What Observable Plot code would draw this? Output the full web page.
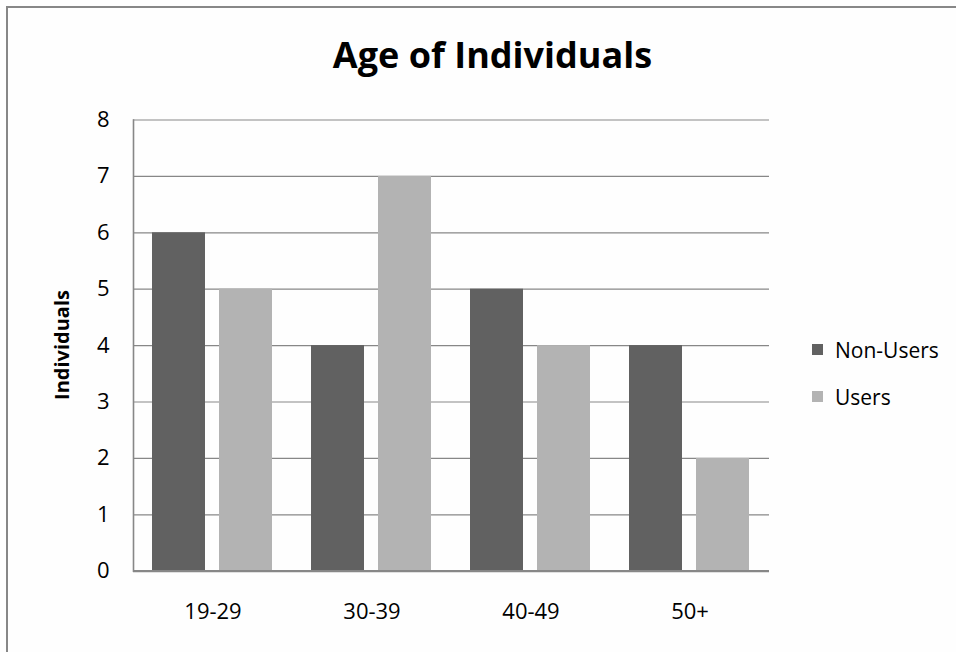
<!DOCTYPE html>
<html>
<head>
<meta charset="utf-8">
<script src="https://cdn.jsdelivr.net/npm/d3@7"></script>
<script src="https://cdn.jsdelivr.net/npm/@observablehq/plot@0.6"></script>
<style>
  html, body { margin: 0; padding: 0; background: #fefefe; }
  #chart { position: relative; width: 956px; height: 652px; overflow: hidden; font-family: "Open Sans", sans-serif; color: #000; }
  #chart svg { position: absolute; left: 0; top: 0; }
  .border { position: absolute; left: 6px; top: 6px; right: -10px; bottom: -10px; border-left: 2px solid #878787; border-top: 2px solid #878787; }
  .title { position: absolute; left: 0; width: 985px; top: 37px; text-align: center; font-weight: 700; font-size: 36px; line-height: 1; white-space: nowrap; }
  .ylabel { position: absolute; left: 62px; top: 345px; transform: translate(-50%, -50%) rotate(-90deg); font-weight: 700; font-size: 20px; white-space: nowrap; line-height: 1; }
  .legend { position: absolute; left: 812px; top: 326px; font-size: 21px; }
  .legend .item { display: flex; align-items: center; height: 47px; }
  .legend .sw { width: 11px; height: 11px; margin-right: 12px; }
</style>
</head>
<body>
<div id="chart">
  <div class="border"></div>
</div>
<script>
// Age groups and the two respondent groups
const categories = ["19-29", "30-39", "40-49", "50+"];
const series = ["Non-Users", "Users"];
const nonUsers = [6, 4, 5, 4];
const users = [5, 7, 4, 2];
const yTicks = [0, 1, 2, 3, 4, 5, 6, 7, 8];
const colors = ["#616161", "#b3b3b3"];
const title = "Age of Individuals";
const yLabel = "Individuals";

// Long-format table for the grouped bars
const rows = categories.flatMap((age, i) => [
  {age, group: series[0], value: nonUsers[i]},
  {age, group: series[1], value: users[i]}
]);

const chart = Plot.plot({
  width: 956,
  height: 652,
  marginLeft: 132,
  marginRight: 185.4,
  marginTop: 119.5,
  marginBottom: 81.3,
  style: {fontFamily: "Open Sans, sans-serif", fontSize: "22px", color: "#000", background: "transparent"},
  fx: {domain: categories, paddingInner: 0, paddingOuter: 0, label: null, tickSize: 0, tickPadding: 32},
  x: {domain: series, paddingInner: 0.206, paddingOuter: 0.277, axis: null},
  y: {domain: [0, 8], ticks: yTicks, label: null, tickSize: 0, tickPadding: 24, tickFormat: d3.format("d")},
  color: {domain: series, range: colors},
  marks: [
    Plot.ruleY(yTicks.filter(d => d > 0), {stroke: "#878787", strokeWidth: 1.2, strokeOpacity: 1}),
    Plot.barY(rows, {fx: "age", x: "group", y: "value", fill: "group"}),
    Plot.ruleY([0], {stroke: "#878787", strokeWidth: 2.2, strokeOpacity: 1}),
    Plot.frame({anchor: "left", facet: "super", stroke: "#878787", strokeWidth: 1.6, strokeOpacity: 1})
  ]
});

const root = document.getElementById("chart");
root.appendChild(chart);

const t = document.createElement("div");
t.className = "title";
t.textContent = title;
root.appendChild(t);

const yl = document.createElement("div");
yl.className = "ylabel";
yl.textContent = yLabel;
root.appendChild(yl);

const lg = document.createElement("div");
lg.className = "legend";
series.forEach((s, i) => {
  const item = document.createElement("div");
  item.className = "item";
  const sw = document.createElement("div");
  sw.className = "sw";
  sw.style.background = colors[i];
  const label = document.createElement("span");
  label.textContent = s;
  item.appendChild(sw);
  item.appendChild(label);
  lg.appendChild(item);
});
root.appendChild(lg);
</script>
</body>
</html>
